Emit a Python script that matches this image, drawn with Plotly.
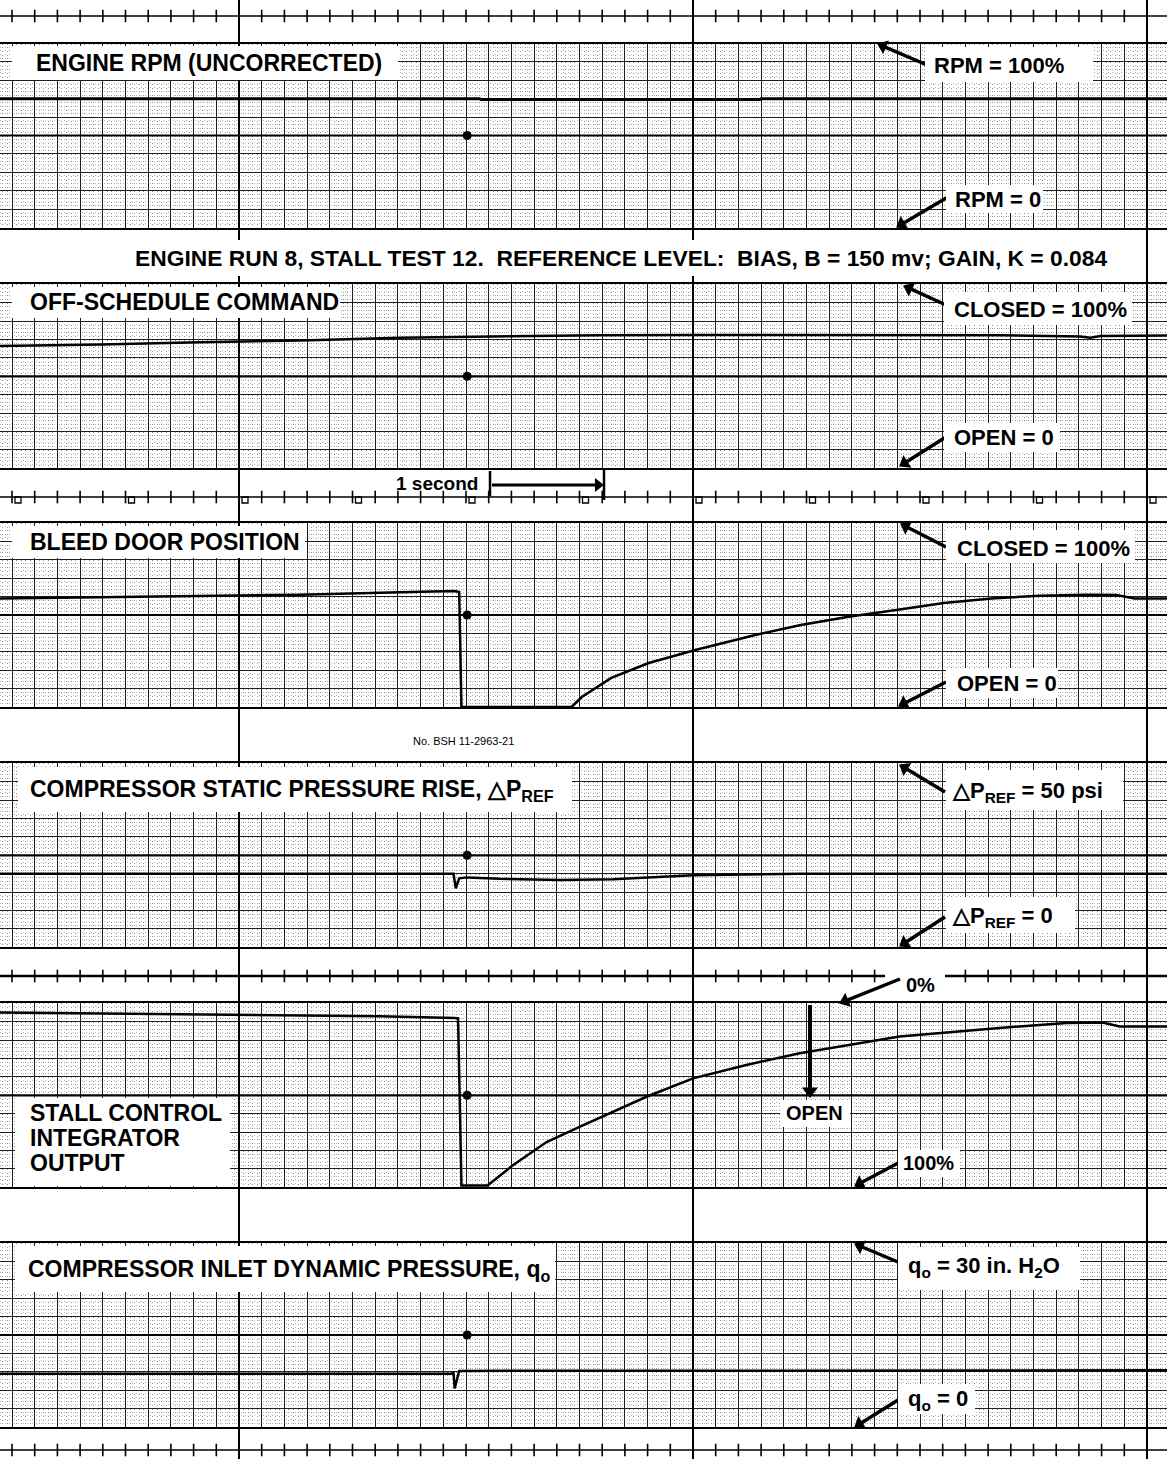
import math
import plotly.graph_objects as go

W, H = 1167, 1459

# ---------------- data (time in seconds, values in % of channel span) -------------
T_EVENT = 4.01  # event mark time

rpm_t = [-0.11, 4.12, 4.13, 6.59, 6.60, 10.18]
rpm_pct = [70.0, 70.0, 69.5, 69.5, 70.0, 70.0]

offsched_t = [-0.11, 0.78, 1.66, 2.54, 3.42, 4.30, 5.18, 6.06, 6.94, 7.82, 8.70, 9.41, 9.50, 9.59, 10.18]
offsched_pct = [66.5, 67.3, 68.5, 69.5, 71.0, 71.8, 72.3, 72.5, 72.5, 72.4, 72.3, 71.6, 71.0, 71.9, 72.2]

bleed_t = [-0.11, 0.78, 1.66, 2.54, 3.42, 3.90, 3.94, 3.96, 4.93, 5.02, 5.28, 5.61, 6.02,
           6.54, 6.95, 7.37, 7.79, 8.21, 8.63, 9.05, 9.47, 9.73, 9.89, 10.18]
bleed_pct = [59.0, 59.6, 60.3, 61.0, 62.3, 63.0, 62.5, 0.0, 0.0, 5.4, 15.8, 23.9, 31.0,
             39.0, 44.6, 49.0, 52.7, 56.5, 59.0, 60.5, 61.0, 60.9, 59.0, 59.0]

dp_t = [-0.11, 3.89, 3.91, 3.94, 4.01, 4.30, 4.83, 5.30, 5.60, 6.00, 6.94, 10.18]
dp_pct = [40.0, 40.0, 32.0, 37.5, 38.0, 37.2, 36.6, 37.0, 38.0, 39.1, 40.0, 40.0]

integ_t = [-0.11, 1.66, 3.24, 3.90, 3.93, 3.96, 4.19, 4.41, 4.71, 5.00, 5.29, 5.59, 6.00,
           6.47, 6.94, 7.82, 8.70, 9.29, 9.61, 9.76, 10.18]
integ_pct = [5.0, 6.0, 7.1, 8.0, 8.2, 99.0, 99.0, 88.2, 75.4, 67.2, 59.0, 50.8, 40.8,
             33.5, 27.1, 18.0, 13.4, 10.7, 10.4, 12.6, 12.6]

q0_t = [-0.11, 3.87, 3.89, 3.90, 3.94, 10.18]
q0_pct = [29.0, 29.0, 29.5, 21.0, 30.5, 30.8]

channel_t = [rpm_t, offsched_t, bleed_t, dp_t, integ_t, q0_t]
channel_v = [rpm_pct, offsched_pct, bleed_pct, dp_pct, integ_pct, q0_pct]
channel_reversed = [False, False, False, False, True, False]
channel_width = [3.0, 2.5, 2.5, 2.5, 2.5, 2.5]

# ---------------- geometry helpers (layout only) ----------------
X0_PX = 12.0
PX_PER_S = 113.5
T_MIN = -X0_PX / PX_PER_S
T_MAX = (W - X0_PX) / PX_PER_S

def tpx(t):
    return X0_PX + t * PX_PER_S

# channel (top, bottom) in pixels
chan_px = [(43.5, 227.5), (284.3, 468.3), (523, 707), (763.3, 947.3), (1003.3, 1187.3), (1243, 1427)]

GRID = "#1e1e1e"
STIPPLE = "#8f8f8f"
FONT = "Liberation Sans, Arial, sans-serif"
SUB_H = PX_PER_S * 0.04  # horizontal stipple spacing in px

fig = go.Figure()
layout = dict(width=W, height=H, margin=dict(l=0, r=0, t=0, b=0),
              paper_bgcolor="white", plot_bgcolor="rgba(0,0,0,0)", showlegend=False)

for k in range(6):
    i = k + 1
    xs = "" if i == 1 else str(i)
    top, bot = chan_px[k]
    sub_v = (bot - top) / 50.0  # vertical spacing of the fine stipple
    layout["xaxis" + xs] = dict(domain=[0, 1], range=[T_MIN, T_MAX], anchor="y" + xs,
                                showticklabels=False, ticks="", zeroline=False,
                                showgrid=True, gridcolor=GRID, gridwidth=1.4, tick0=0, dtick=0.2,
                                showline=True, mirror=True, linecolor="black", linewidth=2,
                                minor=dict(tick0=0, dtick=0.04, showgrid=True, gridcolor=STIPPLE,
                                           griddash="1px,%.2fpx" % (sub_v - 1), gridwidth=1))
    layout["yaxis" + xs] = dict(domain=[1 - bot / H, 1 - top / H],
                                range=[100, 0] if channel_reversed[k] else [0, 100],
                                anchor="x" + xs, showticklabels=False, ticks="", zeroline=False,
                                showgrid=True, gridcolor=GRID, gridwidth=1.3, tick0=0, dtick=10,
                                showline=False,
                                minor=dict(tick0=0, dtick=2, showgrid=True, gridcolor="#b4b4b4",
                                           griddash="1px,%.2fpx" % (SUB_H - 1), gridwidth=1))
    fig.add_trace(go.Scatter(x=channel_t[k], y=channel_v[k], mode="lines",
                             line=dict(color="black", width=channel_width[k]),
                             xaxis="x" + xs, yaxis="y" + xs, hoverinfo="skip"))
    fig.add_trace(go.Scatter(x=[T_EVENT], y=[50], mode="markers",
                             marker=dict(color="black", size=9, symbol="circle"),
                             xaxis="x" + xs, yaxis="y" + xs, hoverinfo="skip"))

# decoration axes in pixel units
layout["xaxis7"] = dict(domain=[0, 1], range=[0, W], anchor="y7", visible=False)
layout["yaxis7"] = dict(domain=[0, 1], range=[H, 0], anchor="x7", visible=False)

# timing strips with ticks
strip_y = [16, 497, 976, 1450]
strip_w = [1.6, 1.6, 2.4, 1.6]
tick_times = [j * 0.2 for j in range(0, 52)]
for sy, sw in zip(strip_y, strip_w):
    if sy == 976:
        lx = [0, 885, None, 945, W]
        ly = [sy, sy, None, sy, sy]
        tx = [tpx(t) for t in tick_times if not (875 < tpx(t) < 955)]
    else:
        lx = [0, W]
        ly = [sy, sy]
        tx = [tpx(t) for t in tick_times]
    fig.add_trace(go.Scatter(x=lx, y=ly, mode="lines", line=dict(color="black", width=sw),
                             xaxis="x7", yaxis="y7", hoverinfo="skip"))
    fig.add_trace(go.Scatter(x=tx, y=[sy] * len(tx), mode="markers",
                             marker=dict(symbol="line-ns", size=9, color="black",
                                         line=dict(color="black", width=1.6)),
                             xaxis="x7", yaxis="y7", hoverinfo="skip"))

# one-second timing notches
notch_x = [18 + s * PX_PER_S for s in range(0, 11)]
fig.add_trace(go.Scatter(x=notch_x, y=[500] * len(notch_x), mode="markers",
                         marker=dict(symbol="square-open", size=6, color="black",
                                     line=dict(color="black", width=1.3)),
                         xaxis="x7", yaxis="y7", hoverinfo="skip"))

# pointer arrows (tail -> head): line plus rotated triangle head
def arrow(tail, head, width=3.5, size=13):
    dx, dy = head[0] - tail[0], head[1] - tail[1]
    L = math.hypot(dx, dy)
    ux, uy = dx / L, dy / L
    ang = math.degrees(math.atan2(dx, -dy))
    cx, cy = head[0] - ux * size * 0.42, head[1] - uy * size * 0.42
    ex, ey = head[0] - ux * size * 0.6, head[1] - uy * size * 0.6
    fig.add_trace(go.Scatter(x=[tail[0], ex], y=[tail[1], ey], mode="lines",
                             line=dict(color="black", width=width),
                             xaxis="x7", yaxis="y7", hoverinfo="skip"))
    fig.add_trace(go.Scatter(x=[cx], y=[cy], mode="markers",
                             marker=dict(symbol="triangle-up", size=size, color="black",
                                         angle=ang, line=dict(width=0)),
                             xaxis="x7", yaxis="y7", hoverinfo="skip"))

arrow((927, 65), (878, 44))
arrow((948, 197), (897, 227))
arrow((946, 305), (904, 286))
arrow((946, 437), (900, 466))
arrow((946, 547), (901, 524))
arrow((946, 682), (899, 706))
arrow((945, 792), (900, 765))
arrow((945, 917), (900, 946))
arrow((900, 979), (840, 1003))
arrow((810, 1005), (810, 1097), width=4, size=14)
arrow((900, 1162), (855, 1186))
arrow((898, 1262), (855, 1244))
arrow((898, 1400), (855, 1427))
arrow((492, 485), (603, 485), width=3, size=12)

shapes = []
# bold centre lines
for k in range(6):
    xs = "" if k == 0 else str(k + 1)
    shapes.append(dict(type="line", xref="paper", yref="y" + xs, x0=0, x1=1, y0=50, y1=50,
                       line=dict(color="black", width=2.2), layer="above"))
# major vertical lines
for t in [2, 6, 10]:
    shapes.append(dict(type="line", xref="x", yref="paper", x0=t, x1=t, y0=0, y1=1,
                       line=dict(color="black", width=2), layer="above"))
# one-second bars
shapes.append(dict(type="line", xref="x7", yref="y7", x0=490, x1=490, y0=471, y1=496,
                   line=dict(color="black", width=2.5), layer="above"))
shapes.append(dict(type="line", xref="x7", yref="y7", x0=604, x1=604, y0=468, y1=500,
                   line=dict(color="black", width=2.5), layer="above"))

# white label boxes (x0, y0, x1, y1)
boxes = [
    (12, 46, 398, 80), (925, 47, 1093, 82), (946, 185, 1043, 213),
    (125, 240, 1115, 276),
    (12, 287, 340, 318), (944, 292, 1132, 325), (944, 423, 1060, 452),
    (12, 526, 305, 558), (946, 530, 1135, 563), (946, 668, 1058, 698),
    (18, 767, 572, 812), (946, 770, 1123, 810), (946, 897, 1075, 933),
    (15, 1098, 230, 1186), (780, 1100, 850, 1127), (898, 1150, 960, 1177),
    (15, 1246, 555, 1292), (898, 1247, 1080, 1290), (898, 1384, 975, 1414),
]
for (a, b, c, d) in boxes:
    shapes.append(dict(type="rect", xref="x7", yref="y7", x0=a, x1=c, y0=b, y1=d,
                       fillcolor="white", line=dict(width=0), layer="above"))
layout["shapes"] = shapes

annotations = []

def label(text, x, y, size=22, anchor="left", bold=True):
    annotations.append(dict(text=("<b>%s</b>" % text) if bold else text, x=x, y=y,
                            xref="x7", yref="y7", xanchor=anchor, yanchor="middle",
                            showarrow=False, align="left",
                            font=dict(family=FONT, size=size, color="black")))

label("ENGINE RPM (UNCORRECTED)", 34, 63, size=23)
label("RPM = 100%", 932, 65)
label("RPM = 0", 953, 199)
label("ENGINE RUN 8, STALL TEST 12.  REFERENCE LEVEL:  BIAS, B = 150 mv; GAIN, K = 0.084",
      621, 258, size=22.8, anchor="center")
label("OFF-SCHEDULE COMMAND", 28, 302, size=23)
label("CLOSED = 100%", 952, 309)
label("OPEN = 0", 952, 437)
label("1 second", 480, 483, size=19, anchor="right")
label("BLEED DOOR POSITION", 28, 542, size=23)
label("CLOSED = 100%", 955, 548)
label("OPEN = 0", 955, 683)
label("No. BSH 11-2963-21", 463, 741, size=11, anchor="center", bold=False)
label("COMPRESSOR STATIC PRESSURE RISE, △P<sub>REF</sub>", 28, 790, size=23)
label("△P<sub>REF</sub> = 50 psi", 950, 792)
label("△P<sub>REF</sub> = 0", 950, 917)
label("0%", 904, 985, size=20)
label("STALL CONTROL", 28, 1113, size=23)
label("INTEGRATOR", 28, 1138, size=23)
label("OUTPUT", 28, 1163, size=23)
label("OPEN", 784, 1113, size=20)
label("100%", 901, 1163, size=20)
label("COMPRESSOR INLET DYNAMIC PRESSURE, q<sub>o</sub>", 26, 1270, size=23)
label("q<sub>o</sub> = 30 in. H<sub>2</sub>O", 906, 1267)
label("q<sub>o</sub> = 0", 906, 1400)

layout["annotations"] = annotations
fig.update_layout(**layout)
fig.write_html("out.html", config={"displayModeBar": False},
               post_script="document.body.style.margin='0px';document.body.style.overflow='hidden';")
